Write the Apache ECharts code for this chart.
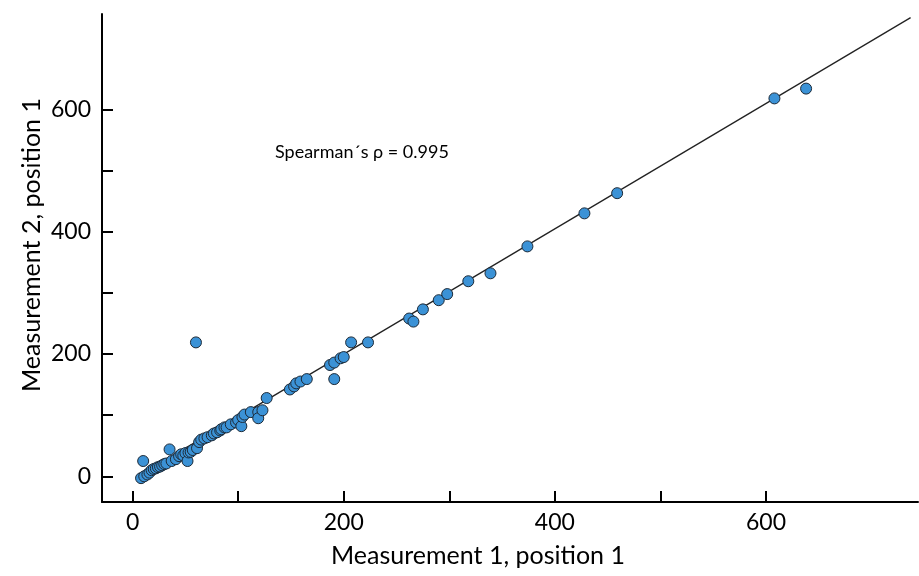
<!DOCTYPE html>
<html>
<head>
<meta charset="utf-8">
<script src="https://cdn.jsdelivr.net/npm/echarts@6/dist/echarts.min.js"></script>
<style>
  html, body { margin: 0; padding: 0; background: #fff; }
  #chart { width: 919px; height: 576px; }
</style>
</head>
<body>
<div id="chart"></div>
<script>
var meas1 = [8, 11, 14, 10, 16, 18, 20, 22, 24, 26, 28, 30, 32, 35, 37, 41, 44, 46, 48, 50, 52, 53, 55, 57, 61,
  63, 65, 68, 71, 75, 77, 80, 83, 84, 87, 89, 93, 98, 100, 103, 104, 106, 112, 119, 119, 123, 127,
  149, 153, 155, 159, 165, 60, 187, 191, 197, 200, 191, 207, 223, 262, 266, 275, 290, 298, 318, 339,
  374, 428, 459, 608, 638];
var meas2 = [-3, 0, 3, 25, 6, 10, 12, 13, 15, 16, 18, 20, 21, 44, 25, 28, 33, 36, 34, 38, 25, 39, 40, 43, 46,
  56, 60, 62, 64, 67, 70, 72, 75, 77, 80, 80, 85, 88, 92, 82, 97, 101, 105, 105, 95, 108, 128,
  142, 147, 152, 155, 159, 219, 182, 186, 193, 195, 159, 219, 219, 258, 253, 273, 288, 298, 319, 332,
  376, 430, 463, 618, 634];
// fitted line end points
var fitX = [7, 737];
var fitY = [2, 750];
var xTicks = [0, 100, 200, 300, 400, 500, 600];
var xLabels = [0, 200, 400, 600];
var yTicks = [0, 100, 200, 300, 400, 500, 600];
var yLabels = [0, 200, 400, 600];

var points = meas1.map(function (v, i) { return [v, meas2[i]]; });
var fitLine = fitX.map(function (v, i) { return [v, fitY[i]]; });

var font = 'Lato, "Open Sans", sans-serif';
var chart = echarts.init(document.getElementById('chart'));
chart.setOption({
  animation: false,
  backgroundColor: '#fff',
  grid: { left: 102, right: 1, top: 14, bottom: 74, outerBoundsMode: 'none' },
  xAxis: {
    type: 'value', min: -29, max: 744,
    axisLine: { onZero: false, lineStyle: { color: '#000', width: 2 } },
    axisTick: { inside: true, length: 11, customValues: xTicks, lineStyle: { color: '#000', width: 2 } },
    axisLabel: { customValues: xLabels, margin: 9, color: '#000', fontSize: 23, fontFamily: font },
    splitLine: { show: false }
  },
  yAxis: {
    type: 'value', min: -42, max: 756,
    axisLine: { show: true, onZero: false, lineStyle: { color: '#000', width: 2 } },
    axisTick: { show: true, inside: true, length: 11, customValues: yTicks, lineStyle: { color: '#000', width: 2 } },
    axisLabel: { customValues: yLabels, margin: 11, color: '#000', fontSize: 23, fontFamily: font },
    splitLine: { show: false }
  },
  graphic: [
    { type: 'text', x: 478, y: 556,
      style: { text: 'Measurement 1, position 1', font: '25px ' + font, fill: '#000', align: 'center', verticalAlign: 'middle' } },
    { type: 'text', x: 32, y: 245, rotation: Math.PI / 2,
      style: { text: 'Measurement 2, position 1', font: '25px ' + font, fill: '#000', align: 'center', verticalAlign: 'middle' } },
    { type: 'text', x: 275, y: 152,
      style: { text: 'Spearman´s ρ = 0.995', font: '18px ' + font, fill: '#000', align: 'left', verticalAlign: 'middle' } }
  ],
  series: [
    {
      type: 'line', data: fitLine, symbol: 'none', z: 1,
      lineStyle: { color: '#222', width: 1.3 }
    },
    {
      type: 'scatter', data: points, symbol: 'circle', symbolSize: 11, z: 3,
      itemStyle: { color: '#3b92d6', borderColor: '#1c2a38', borderWidth: 1, opacity: 1 }
    }
  ]
});
</script>
</body>
</html>
